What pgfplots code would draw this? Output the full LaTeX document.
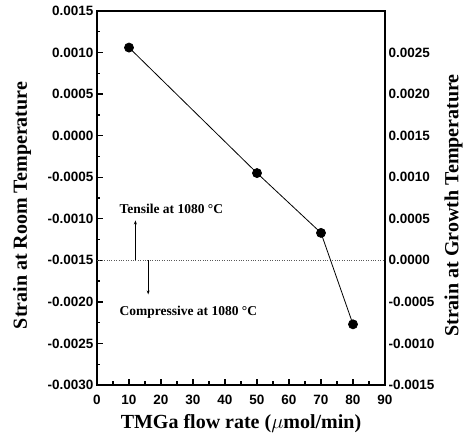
\documentclass[border=0pt]{standalone}
\usepackage{fontspec}
\setmainfont{Liberation Serif}
\setsansfont{Liberation Sans}
\usepackage{pgfplots}
\pgfplotsset{compat=1.18}
\usetikzlibrary{arrows.meta}

\pgfplotstableread{
x y
10 0.00106
50 -0.00045
70 -0.00117
80 -0.00227
}\straindata

\begin{document}
\begin{tikzpicture}
\useasboundingbox (-97bp,-58bp) rectangle (368bp,385bp);
\begin{axis}[
  at={(0,0)}, anchor=south west,
  scale only axis, width=288bp, height=374bp,
  xmin=0, xmax=90, ymin=-0.0015, ymax=0.0030,
  axis x line=none, axis y line*=right,
  ytick={-0.0015,-0.0010,-0.0005,0,0.0005,0.0010,0.0015,0.0020,0.0025},
  yticklabels={-0.0015,-0.0010,-0.0005,0.0000,0.0005,0.0010,0.0015,0.0020,0.0025},
  scaled y ticks=false,
  major tick length=0pt,
  ytick style={draw=none},
  axis line style={line width=1.2bp, -},
  /pgf/number format/assume math mode=true,
  ticklabel style={font=\fontsize{13.5bp}{15bp}\selectfont\sffamily\bfseries},
  ylabel={Strain at Growth Temperature},
  every axis y label/.style={at={(axis description cs:1.238,0.48)}, anchor=center, rotate=90, font=\fontsize{20bp}{22bp}\selectfont\bfseries},
  clip=false,
]
\end{axis}
\begin{axis}[
  at={(0,0)}, anchor=south west,
  scale only axis, width=288bp, height=374bp,
  xmin=0, xmax=90, ymin=-0.0030, ymax=0.0015,
  xtick={0,10,20,30,40,50,60,70,80,90},
  minor xtick={5,15,25,35,45,55,65,75,85},
  ytick={-0.0030,-0.0025,-0.0020,-0.0015,-0.0010,-0.0005,0,0.0005,0.0010,0.0015},
  yticklabels={-0.0030,-0.0025,-0.0020,-0.0015,-0.0010,-0.0005,0.0000,0.0005,0.0010,0.0015},
  minor ytick={-0.00275,-0.00225,-0.00175,-0.00125,-0.00075,-0.00025,0.00025,0.00075,0.00125},
  scaled y ticks=false,
  xtick pos=bottom, ytick pos=left,
  tick align=inside,
  major tick length=6bp, minor tick length=3.5bp,
  tick style={black, line width=1.4bp},
  axis line style={line width=1.2bp},
  /pgf/number format/assume math mode=true,
  ticklabel style={font=\fontsize{13.5bp}{15bp}\selectfont\sffamily\bfseries},
  xticklabel style={yshift=-7bp},
  xlabel={TMGa flow rate ($\mu$mol/min)},
  ylabel={Strain at Room Temperature},
  every axis x label/.style={at={(axis description cs:0.5,-0.102)}, anchor=center, font=\fontsize{20bp}{22bp}\selectfont\bfseries},
  every axis y label/.style={at={(axis description cs:-0.26,0.48)}, anchor=center, rotate=90, font=\fontsize{20bp}{22bp}\selectfont\bfseries},
  clip=false,
]
\addplot[gray!70!black, line width=0.7bp, dash pattern=on 1bp off 1.4bp] coordinates {(0,-0.0015) (90,-0.0015)};
\addplot[black, line width=0.8bp, mark=*, mark size=4.5bp, mark options={solid, fill=black}] table[x=x,y=y] {\straindata};
\draw[black, line width=0.8bp, -{Stealth[length=4bp,width=3bp]}] (axis cs:12,-0.0015) -- (axis cs:12,-0.00102);
\draw[black, line width=0.8bp, -{Stealth[length=4bp,width=3bp]}] (axis cs:16,-0.0015) -- (axis cs:16,-0.00191);
\node[anchor=base west, inner sep=0, font=\fontsize{13.5bp}{15bp}\selectfont\bfseries] at (axis cs:7,-0.00094) {Tensile at 1080 °C};
\node[anchor=base west, inner sep=0, font=\fontsize{13.5bp}{15bp}\selectfont\bfseries] at (axis cs:7,-0.00216) {Compressive at 1080 °C};
\end{axis}
\end{tikzpicture}
\end{document}
